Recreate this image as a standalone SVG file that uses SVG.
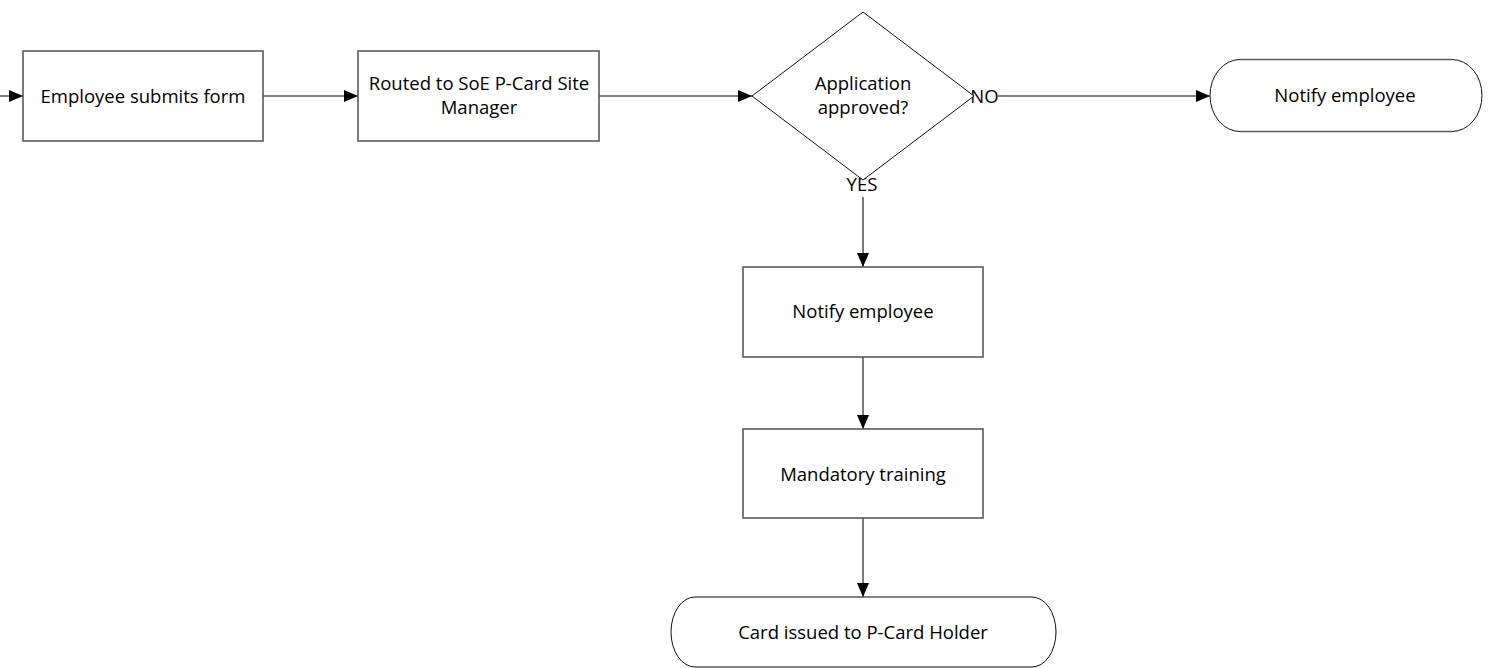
<svg xmlns="http://www.w3.org/2000/svg" width="1496" height="668" viewBox="0 0 1496 668">
  <style>
    .proc { fill: #ffffff; stroke: #5a5a5a; stroke-width: 1.6; }
    .dec { fill: #ffffff; stroke: #111111; stroke-width: 1; }
    .term-arc { fill: none; stroke: #111111; stroke-width: 1; }
    .term-edge { fill: none; stroke: #5a5a5a; stroke-width: 1.6; }
    .label { font-family: "Open Sans", "Liberation Sans", sans-serif; font-size: 18.5px; fill: #000000; text-anchor: middle; }
    .edge { fill: none; stroke: #5a5a5a; stroke-width: 1.6; }
  </style>
  <defs>
    <marker id="arrow" markerUnits="userSpaceOnUse" markerWidth="14" markerHeight="13" refX="14" refY="6.5" orient="auto">
      <path d="M0,0.5 L14,6.5 L0,12.5 z" fill="#000000"/>
    </marker>
  </defs>

  <rect width="1496" height="668" fill="#ffffff"/>

  <!-- connectors -->
  <g id="connectors">
    <line class="edge" x1="0" y1="96" x2="23" y2="96" marker-end="url(#arrow)"/>
    <line class="edge" x1="263" y1="96" x2="358" y2="96" marker-end="url(#arrow)"/>
    <line class="edge" x1="599" y1="96" x2="752" y2="96" marker-end="url(#arrow)"/>
    <line class="edge" x1="998" y1="96" x2="1210" y2="96" marker-end="url(#arrow)"/>
    <line class="edge" x1="863" y1="197" x2="863" y2="267" marker-end="url(#arrow)"/>
    <line class="edge" x1="863" y1="357" x2="863" y2="429" marker-end="url(#arrow)"/>
    <line class="edge" x1="863" y1="518" x2="863" y2="597" marker-end="url(#arrow)"/>
    <text class="label" x="984.5" y="103" font-size="17">NO</text>
    <text class="label" x="862" y="191" font-size="17">YES</text>
  </g>

  <!-- process: employee submits form -->
  <g id="submit-form">
    <rect class="proc" x="23" y="51" width="240" height="90"/>
    <text class="label" x="143" y="102.5">Employee submits form</text>
  </g>

  <!-- process: routed to site manager -->
  <g id="routed">
    <rect class="proc" x="358" y="51" width="241" height="90"/>
    <text class="label" x="479" y="90">Routed to SoE P-Card Site</text>
    <text class="label" x="479" y="114">Manager</text>
  </g>

  <!-- decision -->
  <g id="approved">
    <polygon class="dec" points="863,12 974,96 863,180 752,96"/>
    <text class="label" x="863" y="90">Application</text>
    <text class="label" x="863" y="114">approved?</text>
  </g>

  <!-- terminator: rejection notice -->
  <g id="notify-rejected">
    <path class="term-arc" d="M1240,59.5 A30,36 0 0 0 1240,131.5 M1452,59.5 A30,36 0 0 1 1452,131.5"/>
    <path class="term-edge" d="M1240,59.5 H1452 M1240,131.5 H1452"/>
    <text class="label" x="1345" y="102">Notify employee</text>
  </g>

  <!-- process: approval notice -->
  <g id="notify-approved">
    <rect class="proc" x="743" y="267" width="240" height="90"/>
    <text class="label" x="863" y="318">Notify employee</text>
  </g>

  <!-- process: training -->
  <g id="training">
    <rect class="proc" x="743" y="429" width="240" height="89"/>
    <text class="label" x="863" y="480.5">Mandatory training</text>
  </g>

  <!-- terminator: card issued -->
  <g id="card-issued">
    <path class="term-arc" d="M695,597 A24,35 0 0 0 695,667 M1032,597 A24,35 0 0 1 1032,667"/>
    <path class="term-edge" d="M695,597 H1032 M695,667 H1032"/>
    <text class="label" x="863" y="639">Card issued to P-Card Holder</text>
  </g>
</svg>
